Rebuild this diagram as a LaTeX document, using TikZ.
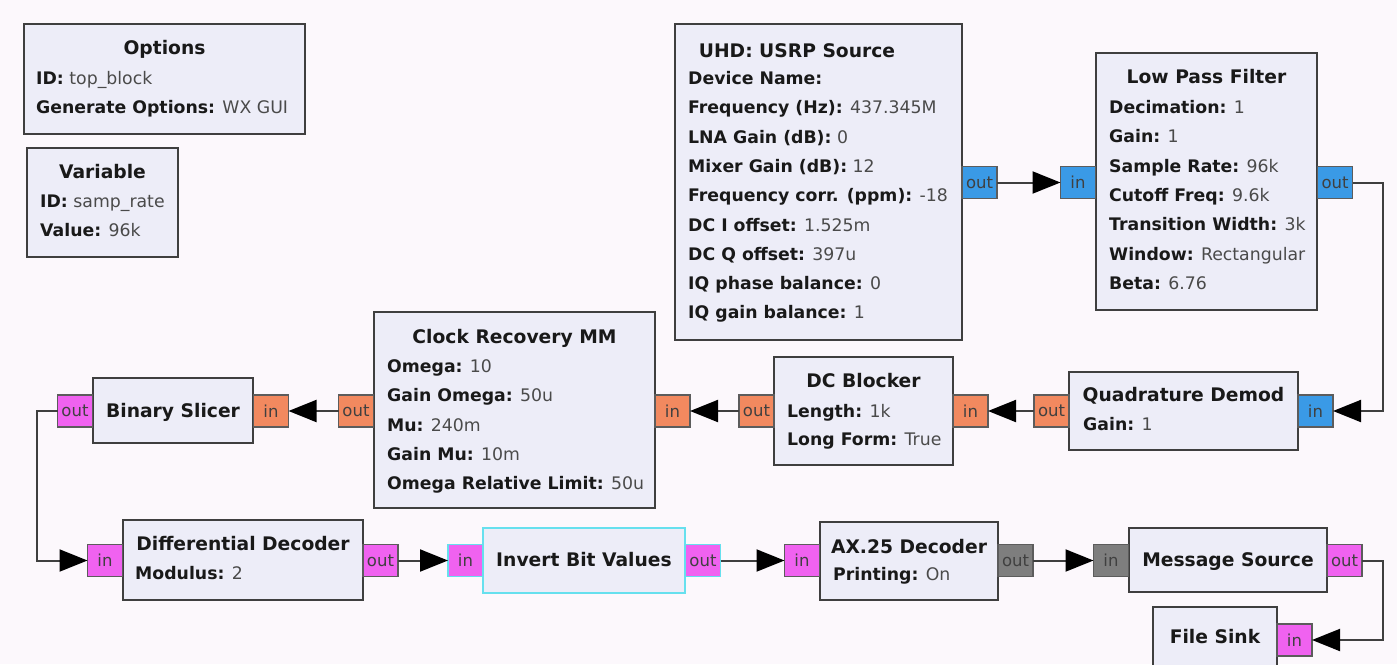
\documentclass[tikz,border=0pt]{standalone}
\usepackage{fontspec}
\setmainfont{DejaVu Sans}
\usetikzlibrary{arrows.meta}
\definecolor{bgc}{HTML}{FCF8FC}
\definecolor{boxc}{HTML}{EDEDF8}
\definecolor{edgec}{HTML}{3F3F3F}
\definecolor{valc}{HTML}{4A4A4A}
\definecolor{cplx}{HTML}{3A9AE6}
\definecolor{fltc}{HTML}{F2895F}
\definecolor{bytec}{HTML}{F062F0}
\definecolor{msgc}{HTML}{7E7E7E}
\definecolor{selc}{HTML}{66E0EE}
\newcommand\kvl[2]{\textbf{#1} {\color{valc}#2}}
\begin{document}
\begin{tikzpicture}[x=1pt,y=-1pt,
  blk/.style={draw=edgec, line width=2pt, fill=boxc, inner sep=0pt, outer sep=0pt, anchor=north west},
  port/.style={draw=edgec!85, line width=1.2pt, minimum width=35pt, minimum height=32pt, inner sep=0pt, outer sep=0pt, font=\fontsize{16.5}{16.5}\selectfont, text=black!75},
  cport/.style={port, fill=cplx},
  fport/.style={port, fill=fltc},
  bport/.style={port, fill=bytec},
  mport/.style={port, fill=msgc},
  title/.style={font=\fontsize{18.7}{19}\selectfont\bfseries, text=black!90, inner sep=0pt, anchor=base},
  kv/.style={font=\fontsize{17.3}{18}\selectfont, inner sep=0pt, anchor=base west, text=black!90},
  wire/.style={draw=edgec, line width=2pt},
  flow/.style={wire, -{Triangle[length=28pt,width=22pt,color=black]}},
]
\fill[bgc] (0,0) rectangle (1397,664);
\useasboundingbox (0,0) rectangle (1397,664);

% ---------- blocks ----------
\node[blk, minimum width=281pt, minimum height=110pt] (opt) at (24,24) {};
\node[blk, minimum width=151pt, minimum height=109pt] (var) at (27,148) {};
\node[blk, minimum width=287pt, minimum height=316pt] (uhd) at (675,24) {};
\node[blk, minimum width=221pt, minimum height=257pt] (lpf) at (1096,53) {};
\node[blk, minimum width=229pt, minimum height=78pt] (qd) at (1069,372) {};
\node[blk, minimum width=179pt, minimum height=108pt] (dc) at (774,357) {};
\node[blk, minimum width=281pt, minimum height=196pt] (cr) at (374,312) {};
\node[blk, minimum width=160pt, minimum height=65pt] (bs) at (93,378) {};
\node[blk, minimum width=240pt, minimum height=80pt] (dd) at (123,520) {};
\node[blk, draw=selc, minimum width=202pt, minimum height=65pt] (ibv) at (483,528) {};
\node[blk, minimum width=178pt, minimum height=78pt] (ax) at (820,522) {};
\node[blk, minimum width=198pt, minimum height=64pt] (ms) at (1129,528) {};
\node[blk, minimum width=124pt, minimum height=65pt] (fs) at (1153,607) {};

% ---------- titles ----------
\node[title] (optT) at (164.5,54.5) {Options};
\node[title] (varT) at (102.5,178.5) {Variable};
\node[title] (uhdT) at (797,57.5) {UHD: USRP Source};
\node[title] (lpfT) at (1206.5,83.5) {Low Pass Filter};
\node[title] (crT) at (514.5,343) {Clock Recovery MM};
\node[title] (dcT) at (863.5,387) {DC Blocker};
\node[title] (qdT) at (1183.5,401.5) {Quadrature Demod};
\node[title] (bsT) at (173,417) {Binary Slicer};
\node[title] (ddT) at (243,550.5) {Differential Decoder};
\node[title] (ibvT) at (584,566.5) {Invert Bit Values};
\node[title] (axT) at (909,553) {AX.25 Decoder};
\node[title] (msT) at (1228,566.5) {Message Source};
\node[title] (fsT) at (1215,643.5) {File Sink};

% ---------- parameters ----------
\node[kv] (opt1) at (36,84.5) {\kvl{ID:}{top\_block}};
\node[kv] (opt2) at (36,113.5) {\kvl{Generate Options:}{WX GUI}};
\node[kv] (var1) at (40,207) {\kvl{ID:}{samp\_rate}};
\node[kv] (var2) at (40,236) {\kvl{Value:}{96k}};

\node[kv] (uhd1) at (688,84.5) {\kvl{Device Name:}{}};
\node[kv] (uhd2) at (688,113.8) {\kvl{Frequency (Hz):}{437.345M}};
\node[kv] (uhd3) at (688,143.1) {\kvl{LNA Gain (dB):}{0}};
\node[kv] (uhd4) at (688,172.4) {\kvl{Mixer Gain (dB):}{12}};
\node[kv] (uhd5) at (688,201.7) {\kvl{Frequency corr. (ppm):}{-18}};
\node[kv] (uhd6) at (688,231) {\kvl{DC I offset:}{1.525m}};
\node[kv] (uhd7) at (688,260.3) {\kvl{DC Q offset:}{397u}};
\node[kv] (uhd8) at (688,289.6) {\kvl{IQ phase balance:}{0}};
\node[kv] (uhd9) at (688,318.9) {\kvl{IQ gain balance:}{1}};

\node[kv] (lpf1) at (1109,113.5) {\kvl{Decimation:}{1}};
\node[kv] (lpf2) at (1109,142.8) {\kvl{Gain:}{1}};
\node[kv] (lpf3) at (1109,172.1) {\kvl{Sample Rate:}{96k}};
\node[kv] (lpf4) at (1109,201.4) {\kvl{Cutoff Freq:}{9.6k}};
\node[kv] (lpf5) at (1109,230.7) {\kvl{Transition Width:}{3k}};
\node[kv] (lpf6) at (1109,260) {\kvl{Window:}{Rectangular}};
\node[kv] (lpf7) at (1109,289.3) {\kvl{Beta:}{6.76}};

\node[kv] (cr1) at (387,372.5) {\kvl{Omega:}{10}};
\node[kv] (cr2) at (387,401.8) {\kvl{Gain Omega:}{50u}};
\node[kv] (cr3) at (387,431.1) {\kvl{Mu:}{240m}};
\node[kv] (cr4) at (387,460.4) {\kvl{Gain Mu:}{10m}};
\node[kv] (cr5) at (387,489.7) {\kvl{Omega Relative Limit:}{50u}};

\node[kv] (dc1) at (787,417) {\kvl{Length:}{1k}};
\node[kv] (dc2) at (787,445.5) {\kvl{Long Form:}{True}};
\node[kv] (qd1) at (1083,430.5) {\kvl{Gain:}{1}};
\node[kv] (dd1) at (135,579.5) {\kvl{Modulus:}{2}};
\node[kv] (ax1) at (833,580.5) {\kvl{Printing:}{On}};

% ---------- ports ----------
\node[cport] (uhdout) at (979.5,182.5) {out};
\node[cport] (lpfin) at (1078,182.5) {in};
\node[cport] (lpfout) at (1335,182.5) {out};
\node[cport] (qdin) at (1315.5,411) {in};
\node[fport] (qdout) at (1051.5,411) {out};
\node[fport] (dcin) at (970.5,411) {in};
\node[fport] (dcout) at (756.5,411) {out};
\node[fport] (crin) at (672.5,411) {in};
\node[fport] (crout) at (356,411) {out};
\node[fport] (bsin) at (271,411) {in};
\node[bport] (bsout) at (75,411) {out};
\node[bport] (ddin) at (105,560.5) {in};
\node[bport] (ddout) at (380.5,560.5) {out};
\node[bport, draw=selc] (ibvin) at (465.5,560.5) {in};
\node[bport, draw=selc] (ibvout) at (703,560.5) {out};
\node[bport] (axin) at (802,560.5) {in};
\node[mport] (axout) at (1015.5,560.5) {out};
\node[mport] (msin) at (1111,560.5) {in};
\node[bport] (msout) at (1344.5,560.5) {out};
\node[bport] (fsin) at (1294.5,640) {in};

% ---------- connections ----------
\draw[flow] (uhdout) -- (lpfin);
\draw[flow] (lpfout.east) -- ++(30.5,0) |- (qdin.east);
\draw[flow] (qdout) -- (dcin);
\draw[flow] (dcout) -- (crin);
\draw[flow] (crout) -- (bsin);
\draw[flow] (bsout.west) -- ++(-20.5,0) |- (ddin.west);
\draw[flow] (ddout) -- (ibvin);
\draw[flow] (ibvout) -- (axin);
\draw[flow] (axout) -- (msin);
\draw[flow] (msout.east) -- ++(21,0) |- (fsin.east);
\end{tikzpicture}
\end{document}
